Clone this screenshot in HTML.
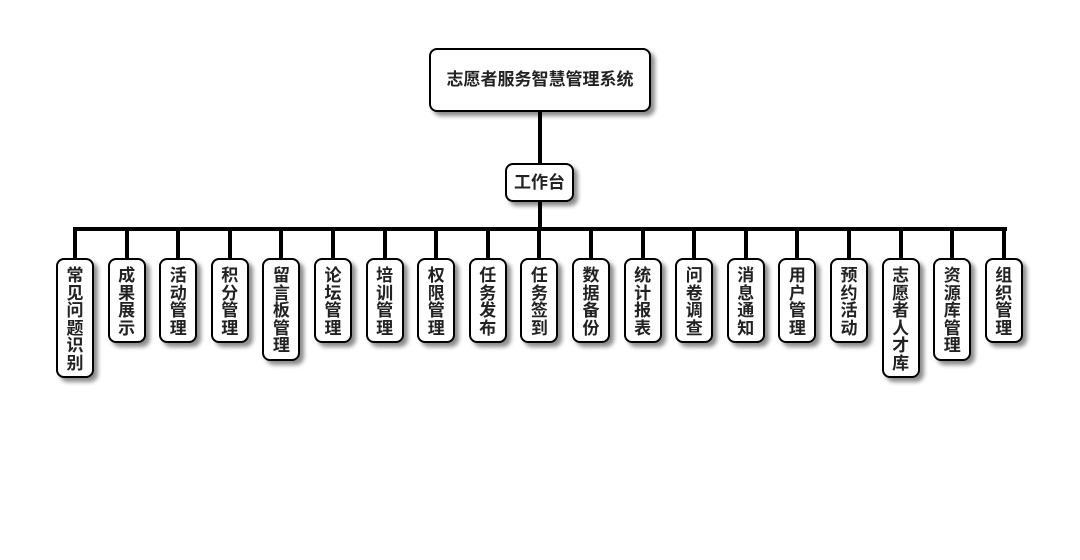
<!DOCTYPE html>
<html><head><meta charset="utf-8"><style>
body{margin:0;width:1080px;height:560px;background:#fff;position:relative;overflow:hidden;font-family:"Liberation Sans","Noto Sans CJK SC",sans-serif;font-weight:bold;color:#222}
.b{position:absolute;background:#fff;border:2px solid #000;border-radius:8px;box-sizing:border-box;box-shadow:4px 4px 4px rgba(0,0,0,.45);text-align:center}
.l{position:absolute;background:#000}
.v{width:38px;top:258px;font-size:17px;line-height:17.5px;padding-top:7px}
</style></head><body>
<div class="b" style="left:429px;top:48px;width:222px;height:64px;line-height:60px;font-size:17px">志愿者服务智慧管理系统</div>
<div class="l" style="left:538px;top:112px;width:4px;height:52px"></div>
<div class="b" style="left:505px;top:163px;width:69px;height:39px;line-height:35px;font-size:17px">工作台</div>
<div class="l" style="left:538px;top:202px;width:4px;height:28px"></div>
<div class="l" style="left:73px;top:227px;width:934px;height:4px"></div>
<div id="c"></div>
<script>
var n=["常见问题识别","成果展示","活动管理","积分管理","留言板管理","论坛管理","培训管理","权限管理","任务发布","任务签到","数据备份","统计报表","问卷调查","消息通知","用户管理","预约活动","志愿者人才库","资源库管理","组织管理"];
var h="";
for(var i=0;i<n.length;i++){var cx=75+i*51.6;var t=n[i];
h+='<div class="l" style="left:'+(cx-2)+'px;top:229px;width:4px;height:30px"></div>';
h+='<div class="b v" style="left:'+(cx-19)+'px;height:'+(t.length*17.5+15)+'px">'+t.split("").join("<br>")+'</div>';}
document.getElementById("c").innerHTML=h;
</script>
</body></html>
